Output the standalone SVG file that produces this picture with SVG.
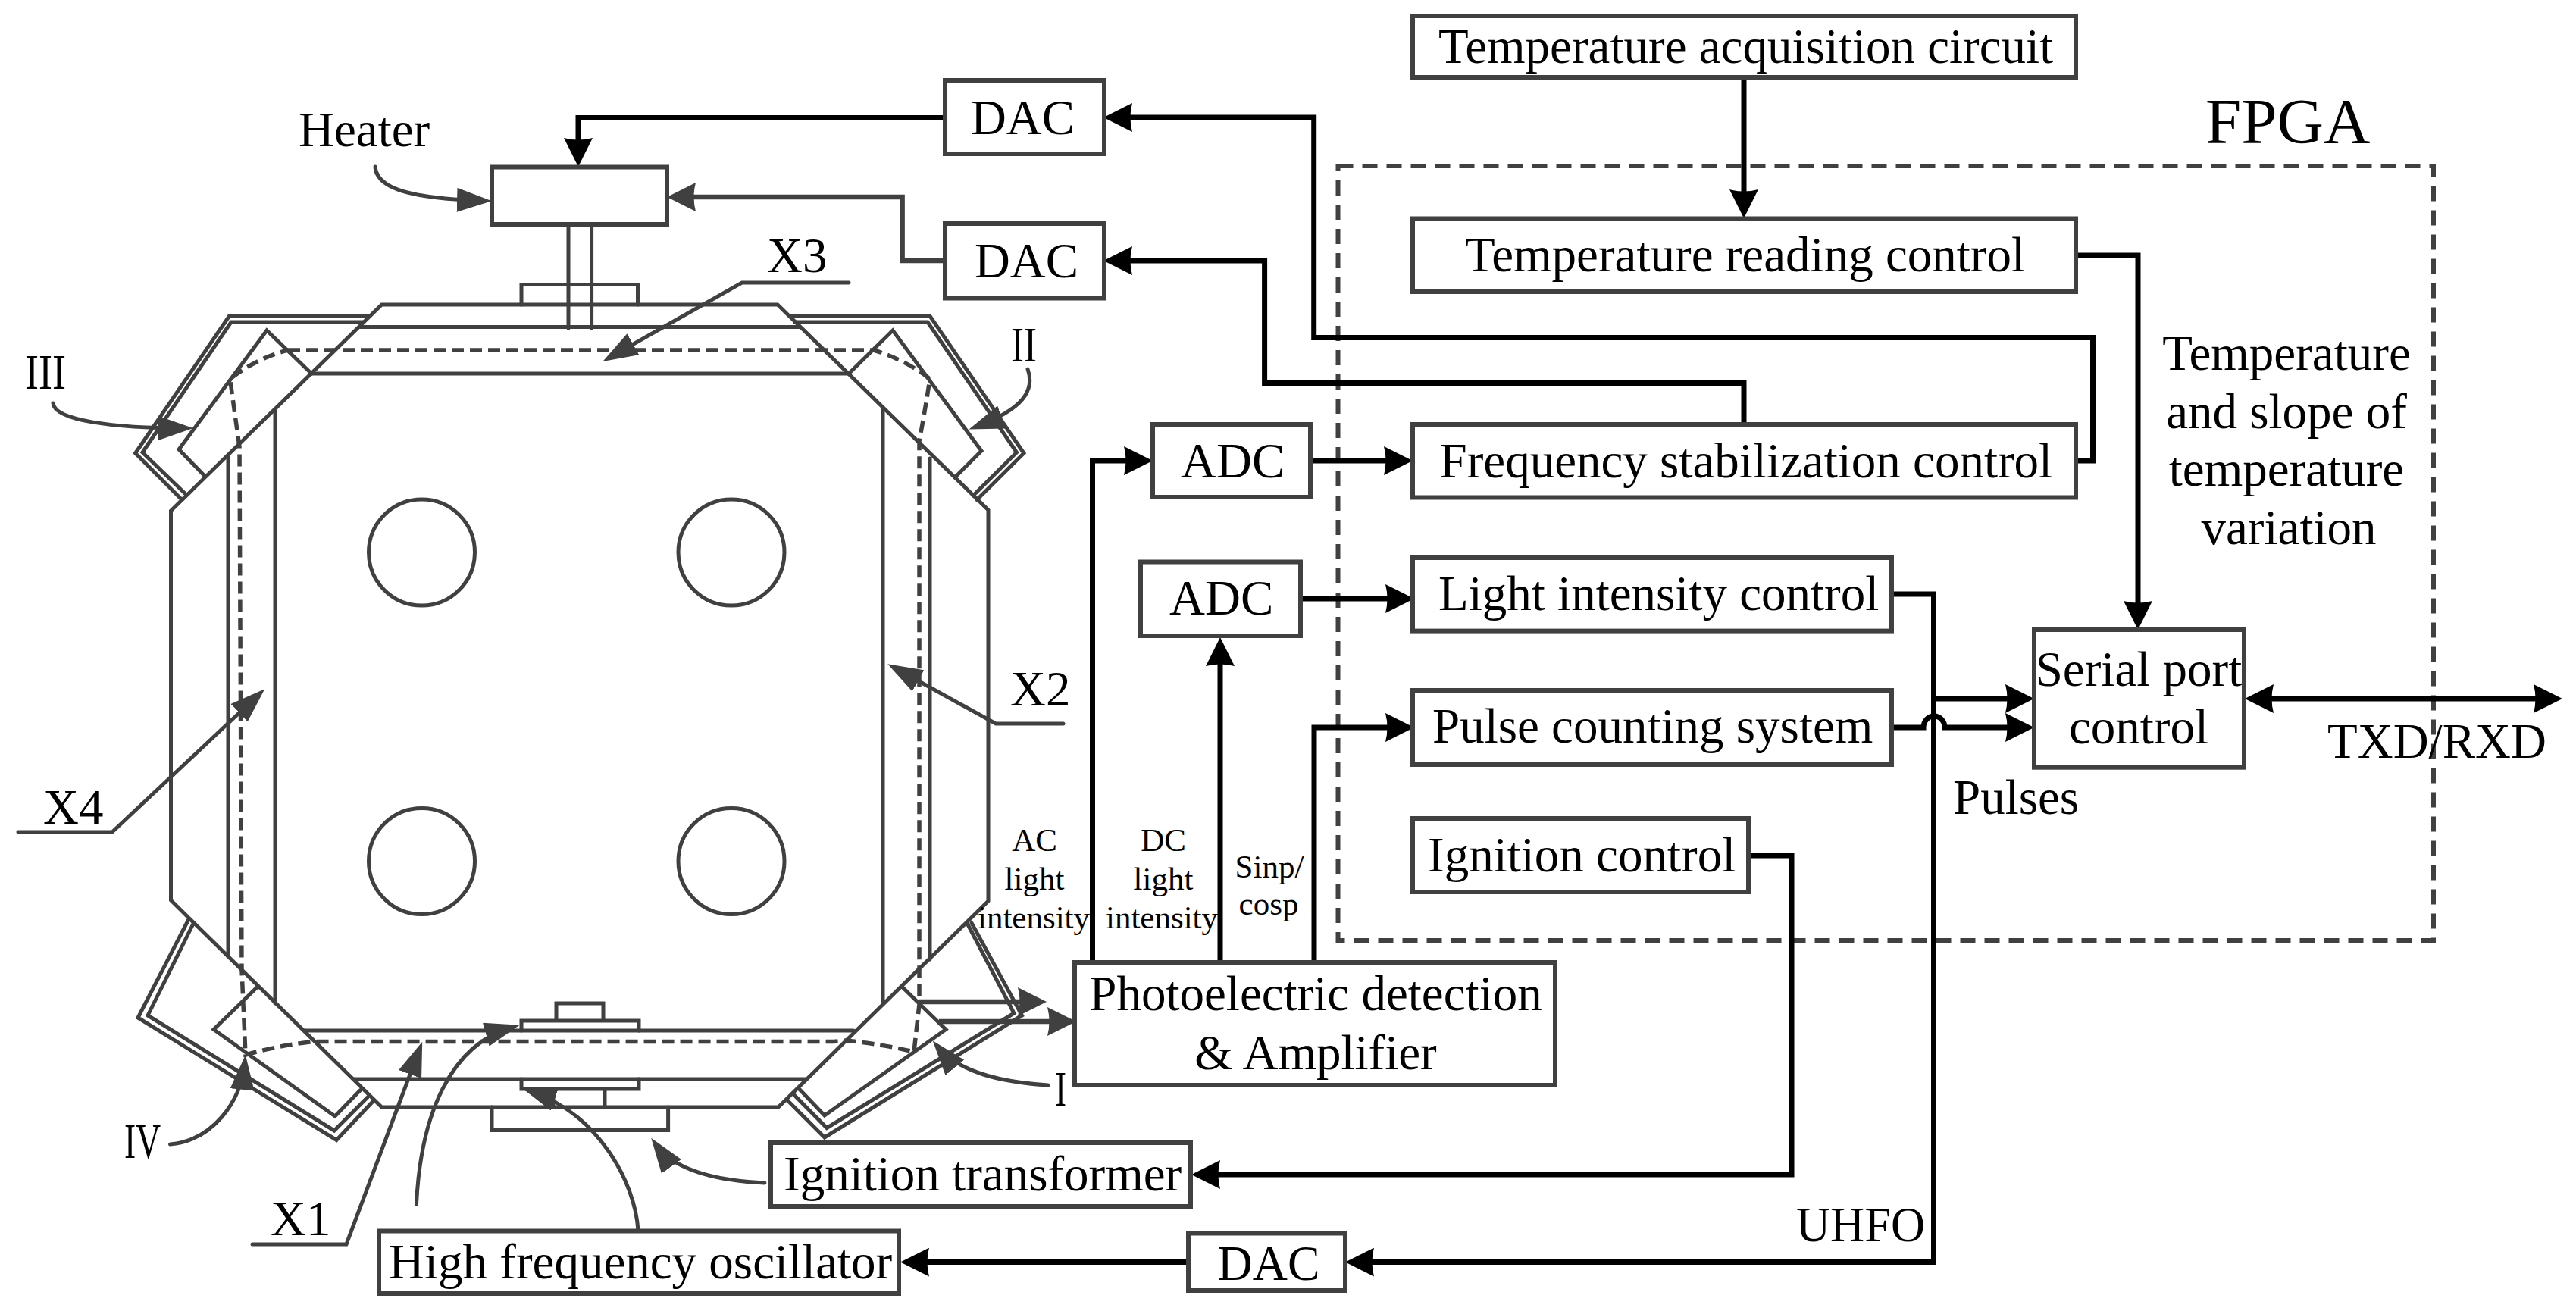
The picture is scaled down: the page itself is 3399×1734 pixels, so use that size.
<svg xmlns="http://www.w3.org/2000/svg" width="3399" height="1734" viewBox="0 0 3399 1734">
<style>
text{font-family:"Liberation Serif","Times New Roman",serif;fill:#000;font-size:65px}
.s{font-size:43px}
.m{text-anchor:middle}
.box{fill:none;stroke:#404040;stroke-width:6;stroke-linejoin:miter}
.c{fill:none;stroke:#404040;stroke-width:5;stroke-linejoin:miter;stroke-linecap:round}
.d{fill:none;stroke:#404040;stroke-width:5.5;stroke-dasharray:16 8}
.fp{fill:none;stroke:#404040;stroke-width:6;stroke-dasharray:20 12}
.k{fill:none;stroke:#000;stroke-width:7;stroke-linejoin:miter;marker-end:url(#ak)}
.kn{fill:none;stroke:#000;stroke-width:7;stroke-linejoin:miter}
.g{fill:none;stroke:#404040;stroke-width:6.5;marker-end:url(#ag)}
.l{fill:none;stroke:#404040;stroke-width:5;marker-end:url(#al);stroke-linecap:round}
</style>
<defs>
<marker id="ak" markerUnits="userSpaceOnUse" viewBox="0 0 38 38" markerWidth="38" markerHeight="38" refX="28" refY="19" orient="auto"><path d="M0 0L38 19L0 38Q5 19 0 0Z" fill="#000"/></marker>
<marker id="aks" markerUnits="userSpaceOnUse" viewBox="0 0 38 38" markerWidth="38" markerHeight="38" refX="28" refY="19" orient="auto-start-reverse"><path d="M0 0L38 19L0 38Q5 19 0 0Z" fill="#000"/></marker>
<marker id="ag" markerUnits="userSpaceOnUse" viewBox="0 0 38 38" markerWidth="38" markerHeight="38" refX="28" refY="19" orient="auto"><path d="M0 0L38 19L0 38Q5 19 0 0Z" fill="#404040"/></marker>
<marker id="al" markerUnits="userSpaceOnUse" viewBox="0 0 46 32" markerWidth="46" markerHeight="32" refX="36" refY="16" orient="auto"><path d="M0 0L46 16L0 32Z" fill="#404040"/></marker>
</defs>
<rect width="3399" height="1734" fill="#fff"/>

<g id="chamber">
<polygon class="c" points="503.6,402 1026,402 1304,673 1304,1189 1027,1461 503.6,1461 225.5,1188 225.5,674"/>
<path class="c" d="M474.5,431.4H1054.5M411,493H1120M301,601V1262M363,540V1324M1165,538V1325M1227,605V1266M403,1360H1126M467,1424H1063"/>
<path class="c" d="M750,296V433M780.6,296V433M688,402V375.5H841.5V402"/>
<path class="c" d="M688,1360V1347H843V1360M734,1347V1324H796V1347M688,1424V1437H843V1424M730,1437V1461M798,1437V1461M649,1461V1491.5H881.6V1461"/>
<path class="c" d="M485,417H302.5L178.6,598L240,659.5M480,425H305L188,597L246,653M411,493L352,436L236,593L270,628"/>
<path class="c" d="M1043,417H1227L1351,598L1289,659.5M1049,425H1224L1341.5,597L1284,654M1120,493L1178,436L1295,595L1260,630"/>
<path class="c" d="M248.5,1214L182,1343L444,1504.5L492,1453.5M255,1219L195,1340L441,1492L485,1448M339,1303L282,1358.5L442,1473L475.5,1438.6"/>
<path class="c" d="M1282,1218L1348.5,1340L1088,1501L1039,1452M1277,1220L1338,1337L1091,1488.5L1046,1443M1190,1302L1248,1358.5L1088,1472L1053.5,1436"/>
<path class="d" d="M380,462H1153Q1195,475 1227,500Q1220,545 1213,582V1325L1206,1388Q1165,1378 1116,1373L1100,1374.6H413Q365,1380 324,1392L319,1280L316,590L303.5,500Q340,472 380,462Z"/>
<circle class="c" cx="556.5" cy="729" r="70"/>
<circle class="c" cx="965" cy="729" r="70"/>
<circle class="c" cx="556.5" cy="1136.5" r="70"/>
<circle class="c" cx="965" cy="1136.5" r="70"/>
</g>

<g id="fpga-boundary">
<rect class="fp" x="1765.5" y="219" width="1445.5" height="1022"/>
<text x="2910" y="189" style="font-size:85px">FPGA</text>
</g>

<g id="connectors">
<path class="k" d="M1247,155.5H763V210"/>
<path class="g" d="M1247,344H1190.6V260H890"/>
<path class="k" d="M2739,608H2761.5V445.5H1733.7V155H1466"/>
<path class="k" d="M2301,560V505.5H1668.6V344H1466"/>
<path class="k" d="M2301,101V278"/>
<path class="k" d="M2739,337H2821V821"/>
<path class="k" d="M1441.5,1270V608H1511"/>
<path class="k" d="M1727,608H1854"/>
<path class="k" d="M1610,1270V851"/>
<path class="k" d="M1713,790H1856"/>
<path class="k" d="M1734,1270V960H1856"/>
<path class="k" d="M2495,784H2551.5V1665.6H1785"/>
<path class="k" d="M2551.5,922H2674"/>
<path class="k" d="M2495,960H2538A14 15 0 0 1 2566 960H2674"/>
<path class="kn" d="M2972,922H3371" style="marker-start:url(#aks);marker-end:url(#aks)"/>
<path class="k" d="M2307,1129H2364V1550H1582"/>
<path class="k" d="M1568,1665.6H1198"/>
<path class="g" d="M1212,1322H1371"/>
<path class="g" d="M1239,1348H1410"/>
<path class="l" d="M495,220C497,250 545,262 639,265"/>
<path class="l" d="M70,532C72,555 150,565 245,565"/>
<path class="l" d="M1120,373H979L804,472"/>
<path class="l" d="M1356,487C1366,515 1350,540 1288,563"/>
<path class="l" d="M1403,955H1314L1180,881"/>
<path class="l" d="M24,1098H148L342,916"/>
<path class="l" d="M333,1642H457L553.7,1384"/>
<path class="l" d="M549.5,1589C555,1470 595,1378 676,1355.5"/>
<path class="l" d="M842,1624C838,1560 790,1470 698,1439"/>
<path class="l" d="M1009,1561C945,1558 890,1545 865,1510"/>
<path class="l" d="M1383,1432C1320,1428 1265,1415 1237,1381"/>
<path class="l" d="M224.5,1510C280,1505 318,1455 323,1402"/>
</g>

<g id="node-heater"><rect class="box" x="649" y="220.5" width="231" height="75.5"/></g>
<g id="node-dac1"><rect class="box" x="1247" y="106" width="210" height="97"/><text x="1281" y="177" textLength="137" lengthAdjust="spacingAndGlyphs">DAC</text></g>
<g id="node-dac2"><rect class="box" x="1247" y="295" width="210" height="98.5"/><text x="1286" y="366" textLength="137" lengthAdjust="spacingAndGlyphs">DAC</text></g>
<g id="node-temp-acq"><rect class="box" x="1864" y="21" width="875" height="81"/><text x="1898" y="83">Temperature acquisition circuit</text></g>
<g id="node-temp-read"><rect class="box" x="1864" y="288.5" width="875" height="96.5"/><text x="1933" y="358">Temperature reading control</text></g>
<g id="node-freq"><rect class="box" x="1864" y="560" width="875" height="96.5"/><text x="1899.5" y="629.5">Frequency stabilization control</text></g>
<g id="node-adc1"><rect class="box" x="1521" y="560" width="208" height="96"/><text x="1558" y="629.5">ADC</text></g>
<g id="node-adc2"><rect class="box" x="1505" y="741.5" width="211" height="97.5"/><text x="1543" y="811">ADC</text></g>
<g id="node-light"><rect class="box" x="1864" y="736" width="632" height="96.6"/><text x="1898" y="805">Light intensity control</text></g>
<g id="node-pulse"><rect class="box" x="1864" y="911" width="632" height="98"/><text x="1890" y="980">Pulse counting system</text></g>
<g id="node-ign-ctrl"><rect class="box" x="1864" y="1080" width="443" height="97"/><text x="1884" y="1150">Ignition control</text></g>
<g id="node-serial"><rect class="box" x="2684" y="831" width="277" height="181.7"/><text x="2822" y="905" class="m">Serial port</text><text x="2822" y="981" class="m">control</text></g>
<g id="node-photo"><rect class="box" x="1418" y="1270" width="634" height="162"/><text x="1736" y="1333" class="m">Photoelectric detection</text><text x="1736" y="1411" class="m">&amp; Amplifier</text></g>
<g id="node-ign-tr"><rect class="box" x="1017" y="1508" width="554" height="84"/><text x="1034" y="1571">Ignition transformer</text></g>
<g id="node-osc"><rect class="box" x="500" y="1624.5" width="686" height="82.5"/><text x="513" y="1687">High frequency oscillator</text></g>
<g id="node-dac3"><rect class="box" x="1568" y="1627.5" width="207" height="75.5"/><text x="1606.6" y="1689.4" textLength="135" lengthAdjust="spacingAndGlyphs">DAC</text></g>

<g id="labels">
<text x="394" y="193">Heater</text>
<text x="33" y="512.5" textLength="54" lengthAdjust="spacingAndGlyphs">III</text>
<text x="1334" y="477" textLength="34" lengthAdjust="spacingAndGlyphs">II</text>
<text x="164" y="1528" textLength="48" lengthAdjust="spacingAndGlyphs">IV</text>
<text x="1392" y="1459" textLength="15" lengthAdjust="spacingAndGlyphs">I</text>
<text x="1012" y="359">X3</text>
<text x="1333" y="931">X2</text>
<text x="57" y="1087">X4</text>
<text x="357" y="1630">X1</text>
<text x="3017" y="488" class="m">Temperature</text>
<text x="3017" y="565" class="m">and slope of</text>
<text x="3017" y="641" class="m">temperature</text>
<text x="3020" y="718" class="m">variation</text>
<text x="2577" y="1074">Pulses</text>
<text x="3071" y="1000">TXD/RXD</text>
<text x="2370" y="1637.7" textLength="170" lengthAdjust="spacingAndGlyphs">UHFO</text>
<text x="1365" y="1123" class="s m">AC</text>
<text x="1365" y="1174" class="s m">light</text>
<text x="1364" y="1224.5" class="s m">intensity</text>
<text x="1535" y="1123" class="s m">DC</text>
<text x="1535" y="1174" class="s m">light</text>
<text x="1533" y="1224.5" class="s m">intensity</text>
<text x="1675" y="1157.6" class="s m">Sinp/</text>
<text x="1674" y="1206.7" class="s m">cosp</text>
</g>
</svg>
